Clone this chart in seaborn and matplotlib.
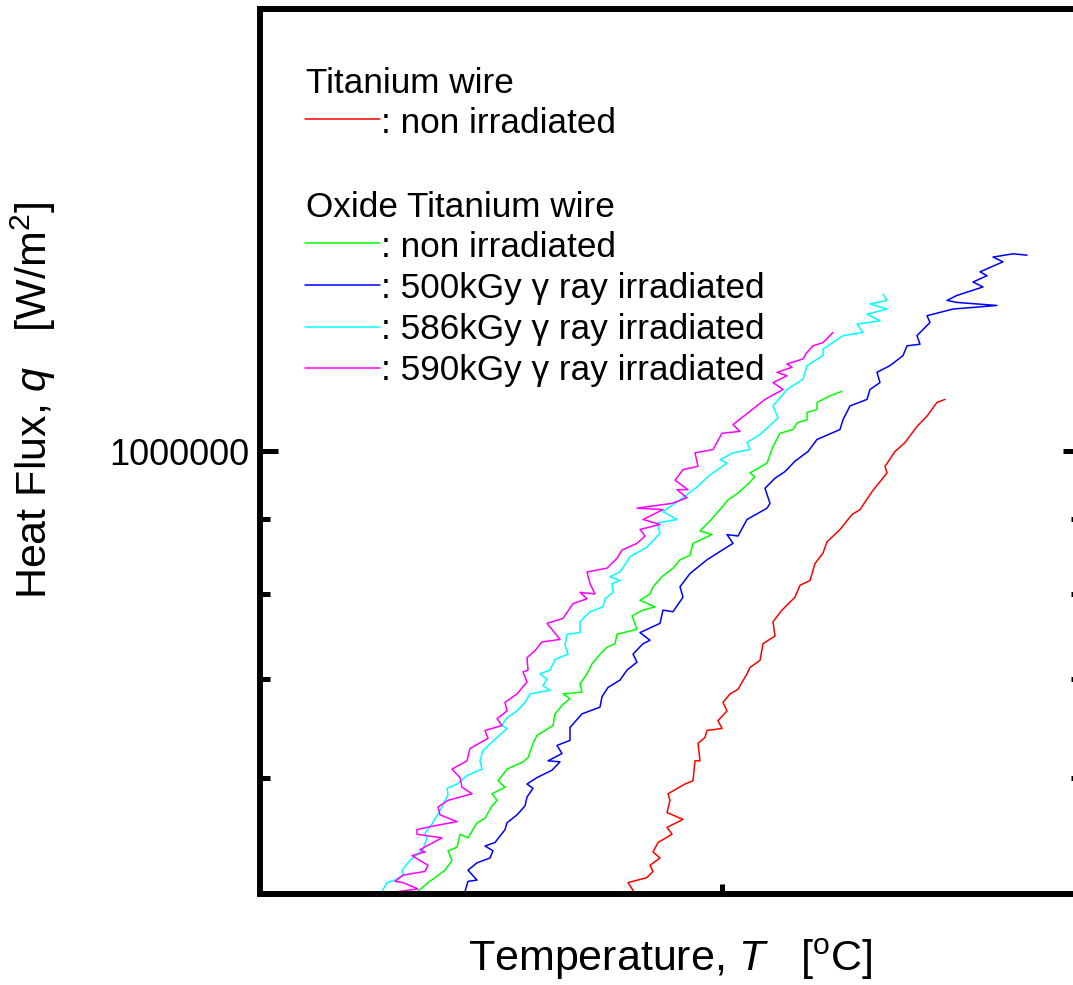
import numpy as np
import pandas as pd
import matplotlib
matplotlib.use("Agg")
import matplotlib.pyplot as plt
import seaborn as sns
from matplotlib.ticker import LogLocator, NullFormatter, NullLocator

# ---------------- data (temperature in degC, heat flux in kW/m^2) ----------------
T_red = [137.7, 136.8, 138.7, 139.3, 139.0, 140.0, 139.3, 139.8, 141.2, 140.7,
         142.3, 140.7, 141.0, 140.8, 142.5, 143.3, 143.5, 144.0, 143.8, 144.5,
         144.7, 146.2, 145.8, 146.7, 146.3, 147.0, 147.8, 148.7, 149.0, 150.0,
         150.3, 151.5, 151.3, 152.2, 153.5, 154.0, 155.0, 155.5, 156.3, 156.7,
         158.0, 159.2, 160.0, 161.2, 162.7, 162.5, 163.5, 164.5, 165.7, 166.7,
         167.7, 168.5]
q_red = [498, 509, 513, 518, 523, 529, 534, 542, 549, 555,
         562, 568, 579, 585, 594, 597, 616, 616, 633, 639,
         646, 648, 656, 666, 675, 684, 689, 706, 713, 721,
         740, 749, 766, 780, 796, 811, 817, 839, 853, 868,
         885, 906, 913, 939, 967, 977, 1000, 1014, 1040, 1057,
         1080, 1085]

T_green = [116.0, 115.8, 116.8, 117.5, 118.5, 119.2, 118.8, 119.7, 120.0, 120.8,
           121.7, 122.5, 123.2, 123.7, 123.2, 124.5, 123.8, 124.7, 126.3, 126.8,
           127.3, 127.7, 129.3, 129.5, 130.3, 131.0, 130.3, 132.2, 132.0, 132.7,
           133.2, 134.0, 134.7, 135.5, 135.7, 137.7, 137.2, 138.3, 139.5, 138.0,
           139.0, 139.3, 140.2, 141.3, 142.0, 143.0, 143.3, 145.2, 144.0, 145.0,
           146.0, 146.8, 147.8, 148.7, 149.5, 149.0, 150.7, 151.3, 152.0, 153.3,
           153.7, 154.7, 154.7, 155.7, 155.7, 157.0, 158.2]
q_green = [498, 502, 509, 513, 519, 527, 535, 538, 549, 546,
           559, 563, 574, 579, 585, 591, 597, 608, 615, 619,
           633, 641, 651, 663, 673, 679, 684, 686, 695, 706,
           717, 728, 736, 740, 751, 757, 773, 780, 784, 792,
           800, 809, 822, 833, 844, 850, 866, 878, 883, 897,
           913, 927, 937, 949, 961, 967, 982, 1008, 1029, 1035,
           1046, 1051, 1063, 1068, 1080, 1091, 1099]

T_blue = [119.8, 120.5, 120.8, 121.7, 120.8, 121.7, 123.0, 123.3, 122.5, 123.5,
          124.5, 124.7, 125.7, 126.5, 126.7, 127.3, 126.7, 127.7, 129.2, 130.0,
          128.8, 130.2, 129.7, 131.0, 131.0, 132.2, 134.0, 134.2, 134.8, 136.0,
          136.7, 137.7, 137.3, 138.3, 139.0, 138.0, 140.0, 140.3, 141.3, 142.3,
          142.0, 143.0, 144.7, 146.0, 147.3, 146.7, 147.8, 148.7, 150.7, 151.0,
          150.5, 151.5, 152.5, 153.5, 154.8, 155.7, 158.0, 158.3, 159.0, 160.7,
          161.0, 162.0, 161.7, 163.0, 164.3, 164.7, 166.0, 165.7, 167.0, 166.7,
          169.3, 173.7, 169.7, 168.7, 169.7, 172.3, 171.3, 172.7, 172.0, 174.3,
          173.3, 175.3, 176.7]
q_blue = [498, 502, 510, 511, 519, 525, 529, 535, 539, 542,
          553, 559, 566, 574, 582, 590, 594, 600, 607, 615,
          616, 623, 631, 636, 649, 663, 670, 681, 691, 699,
          710, 719, 728, 740, 744, 753, 764, 780, 778, 796,
          809, 826, 844, 855, 866, 878, 876, 899, 915, 922,
          944, 959, 969, 985, 1000, 1019, 1035, 1051, 1074, 1085,
          1102, 1114, 1132, 1144, 1162, 1180, 1183, 1199, 1224, 1237,
          1250, 1257, 1263, 1267, 1277, 1294, 1304, 1317, 1325, 1346,
          1356, 1363, 1360]

T_cyan = [112.3, 112.2, 112.7, 113.5, 114.3, 114.2, 115.0, 116.3, 116.7, 116.5,
          117.2, 118.2, 118.8, 118.7, 119.7, 120.7, 122.2, 122.0, 122.3, 123.7,
          124.7, 124.2, 124.7, 125.7, 126.5, 127.0, 129.0, 128.3, 128.7, 128.0,
          129.0, 129.5, 130.8, 130.5, 130.7, 132.0, 132.0, 133.0, 134.3, 134.5,
          135.3, 135.2, 136.0, 135.0, 136.0, 137.0, 138.7, 140.0, 139.7, 141.7,
          140.3, 142.0, 143.7, 145.0, 146.7, 146.0, 147.3, 149.0, 148.7, 150.0,
          151.8, 151.3, 152.7, 154.3, 154.7, 156.3, 156.3, 158.3, 160.3, 159.7,
          162.0, 160.7, 162.7, 161.0, 162.7, 162.3]
q_cyan = [498, 502, 509, 511, 515, 519, 527, 536, 546, 550,
          558, 573, 584, 590, 594, 602, 608, 616, 626, 639,
          648, 651, 659, 666, 675, 684, 688, 693, 700, 706,
          710, 722, 728, 738, 751, 753, 766, 778, 784, 794,
          802, 813, 817, 822, 828, 848, 861, 880, 894, 899,
          910, 927, 946, 964, 982, 987, 998, 1003, 1014, 1027,
          1054, 1074, 1102, 1120, 1144, 1162, 1174, 1199, 1205, 1221,
          1227, 1240, 1250, 1260, 1267, 1280]

T_mag = [115.3, 113.0, 115.8, 114.3, 113.5, 114.3, 116.5, 116.8, 115.2, 116.5,
         116.0, 118.2, 115.7, 115.7, 117.2, 119.7, 118.0, 117.8, 118.8, 121.2,
         120.2, 120.0, 119.2, 120.7, 121.0, 122.8, 122.5, 124.2, 123.7, 124.7,
         124.5, 125.7, 126.7, 126.3, 126.8, 126.7, 127.5, 128.2, 130.0, 128.7,
         130.3, 131.3, 132.7, 132.0, 133.5, 133.0, 132.7, 134.7, 135.7, 136.2,
         137.7, 138.5, 138.0, 140.0, 138.3, 140.3, 137.7, 141.2, 142.7, 141.7,
         142.8, 141.5, 142.3, 143.8, 143.5, 145.3, 146.2, 148.0, 147.3, 149.0,
         150.5, 152.3, 151.3, 152.7, 151.7, 153.2, 152.7, 154.3, 154.7, 155.3,
         156.3, 157.3]
q_mag = [498, 501, 504, 509, 510, 515, 518, 523, 531, 534,
         536, 546, 549, 553, 556, 560, 566, 573, 579, 585,
         591, 600, 608, 616, 628, 638, 646, 651, 658, 666,
         675, 684, 697, 708, 710, 724, 732, 742, 745, 764,
         770, 788, 794, 802, 800, 813, 828, 833, 846, 857,
         866, 876, 885, 892, 899, 913, 915, 922, 930, 942,
         942, 956, 972, 977, 998, 1003, 1029, 1032, 1043, 1065,
         1085, 1102, 1114, 1126, 1132, 1141, 1147, 1156, 1168, 1180,
         1186, 1205]

series_names = ["Ti", "TiOx", "TiOx500", "TiOx586", "TiOx590"]
series_T = [T_red, T_green, T_blue, T_cyan, T_mag]
series_q = [q_red, q_green, q_blue, q_cyan, q_mag]
colors = ["#FF0000", "#00FF00", "#0000FF", "#00FFFF", "#FF00FF"]

legend_header1 = "Titanium wire"
legend_header2 = "Oxide Titanium wire"
legend_labels = [": non irradiated", ": non irradiated",
                 ": 500kGy \u03b3 ray irradiated",
                 ": 586kGy \u03b3 ray irradiated",
                 ": 590kGy \u03b3 ray irradiated"]

x_tick_value = 146.2
y_tick_values = [1e6]
y_tick_labels = ["1000000"]

# ---------------- build table ----------------
frames = []
for name, T, q in zip(series_names, series_T, series_q):
    frames.append(pd.DataFrame({"T": T, "q": np.asarray(q, float) * 1000.0,
                                "series": name}))
df = pd.concat(frames, ignore_index=True)

# ---------------- style ----------------
sns.set_style("ticks")
plt.rcParams["font.family"] = ["Liberation Sans", "DejaVu Sans"]
plt.rcParams["mathtext.fontset"] = "custom"
plt.rcParams["mathtext.rm"] = "Liberation Sans"
plt.rcParams["mathtext.it"] = "Liberation Sans:italic"
for key in ["text.color", "axes.labelcolor", "xtick.color", "ytick.color",
            "axes.edgecolor"]:
    plt.rcParams[key] = "black"

fig = plt.figure(figsize=(10.73, 9.85), dpi=100)
ax = fig.add_axes([0.24231, 0.09239, 0.76514, 0.89848])
ax.set_yscale("log")

sns.lineplot(data=df, x="T", y="q", hue="series", hue_order=series_names,
             palette=dict(zip(series_names, colors)), sort=False,
             estimator=None, legend=False, linewidth=1.1, ax=ax)

ax.set_xlim(100, 182.1)
ax.set_ylim(5e5, 2e6)

# ticks
ax.set_yticks(y_tick_values, y_tick_labels)
ax.yaxis.set_minor_locator(LogLocator(base=10, subs=np.arange(2, 10)))
ax.yaxis.set_minor_formatter(NullFormatter())
ax.set_xticks([x_tick_value], [""])
ax.xaxis.set_minor_locator(NullLocator())
ax.tick_params(axis="y", which="both", direction="in", left=True, right=True,
               width=3.6, labelsize=26, pad=8, colors="black")
ax.tick_params(axis="y", which="major", length=13)
ax.tick_params(axis="y", which="minor", length=7)
ax.tick_params(axis="x", which="major", direction="in", bottom=True, top=False,
               length=7, width=3.6, colors="black")

for s in ax.spines.values():
    s.set_visible(True)
    s.set_linewidth(4.3)
    s.set_color("black")

# axis labels
ax.set_xlabel("Temperature, $T$   [$^{\\mathrm{o}}$C]", fontsize=31,
              va="center", color="black")
ax.xaxis.set_label_coords(0.5, -0.0735)
ax.set_ylabel("Heat Flux, $q$   [W/m$^{2}$]", fontsize=31, va="center",
              color="black")
ax.yaxis.set_label_coords(-0.276, 0.558)

# custom legend
tr = ax.transAxes
fs_leg = 25.3
ax.text(0.056, 0.905, legend_header1, transform=tr, fontsize=fs_leg,
        va="baseline", color="black")
ax.text(0.056, 0.7653, legend_header2, transform=tr, fontsize=fs_leg,
        va="baseline", color="black")
line_y = [0.876, 0.7356, 0.6881, 0.6407, 0.5944]
base_y = [0.860, 0.7198, 0.6734, 0.6266, 0.5808]
for c, lab, ly, by in zip(colors, legend_labels, line_y, base_y):
    ax.plot([0.0548, 0.146], [ly, ly], color=c, lw=1.1, transform=tr)
    ax.text(0.1474, by, lab, transform=tr, fontsize=fs_leg, va="baseline",
            color="black")

fig.savefig("out.png", dpi=100)
